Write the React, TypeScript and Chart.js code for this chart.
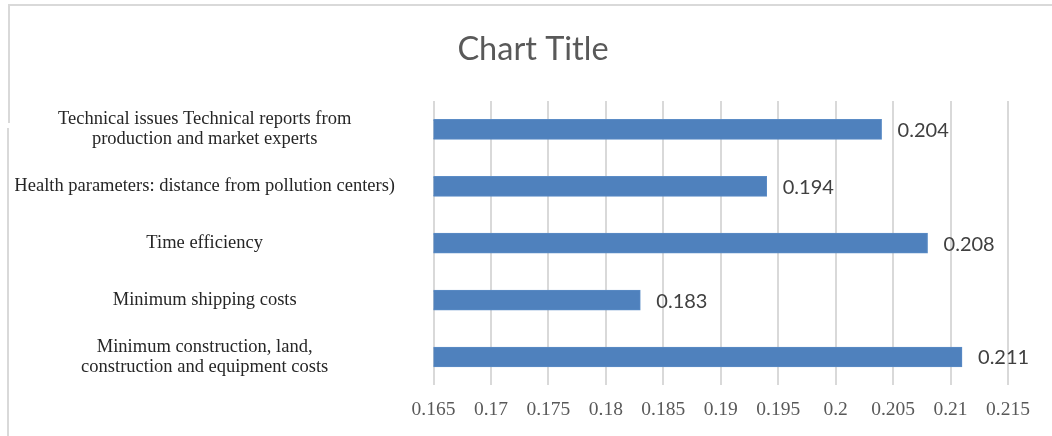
import React, { useEffect, useRef } from "react";
import { Chart, registerables } from "chart.js";

Chart.register(...registerables);

const categories: (string | string[])[] = [
  ["Technical issues Technical reports from", "production and market experts"],
  "Health parameters: distance from pollution centers)",
  "Time efficiency",
  "Minimum shipping costs",
  ["Minimum construction, land,", "construction and equipment costs"],
];
const values: number[] = [0.204, 0.194, 0.208, 0.183, 0.211];
const xMin = 0.165;
const xMax = 0.215;
const xStep = 0.005;
const chartTitle = "Chart Title";

const valueLabelPlugin = {
  id: "valueLabels",
  afterDatasetsDraw(chart: any) {
    const ctx = chart.ctx;
    const meta = chart.getDatasetMeta(0);
    ctx.save();
    ctx.font = "20px Lato, 'Open Sans', sans-serif";
    ctx.fillStyle = "#404040";
    ctx.textAlign = "left";
    ctx.textBaseline = "middle";
    meta.data.forEach((bar: any, i: number) => {
      ctx.fillText(String(values[i]), bar.x + 16, bar.y + 1);
    });
    ctx.restore();
  },
};

export default function App() {
  const ref = useRef<HTMLCanvasElement>(null);
  useEffect(() => {
    if (!ref.current) return;
    const chart = new Chart(ref.current, {
      type: "bar",
      data: {
        labels: categories,
        datasets: [
          {
            data: values,
            backgroundColor: "#4f81bd",
            borderColor: "#5b8cc6",
            borderWidth: 1,
            barThickness: 20,
          },
        ],
      },
      plugins: [valueLabelPlugin],
      options: {
        indexAxis: "y",
        animation: false,
        responsive: false,
        maintainAspectRatio: false,
        layout: { padding: { left: 15, right: 1, top: 0, bottom: 2.6 } },
        plugins: {
          legend: { display: false },
          tooltip: { enabled: false },
          title: {
            display: true,
            text: chartTitle,
            color: "#595959",
            font: { family: "Lato, 'Open Sans', sans-serif", size: 32.5, weight: "normal", lineHeight: 1.2 },
            padding: { top: 30.5, bottom: 31.5 },
          },
        },
        scales: {
          x: {
            min: xMin,
            max: xMax,
            grid: { color: "#d9d9d9", lineWidth: 2, drawTicks: false },
            border: { display: false },
            afterFit: (scale: any) => {
              scale.paddingRight = 44;
              scale.height = 48;
            },
            ticks: {
              stepSize: xStep,
              padding: 13,
              color: "#595959",
              font: { family: "'Liberation Serif', 'Times New Roman', serif", size: 19.5, lineHeight: 1.2 },
              callback: (v: any) => String(Math.round(Number(v) * 1000) / 1000),
            },
          },
          y: {
            grid: { display: false },
            border: { display: false },
            afterFit: (scale: any) => {
              scale.width = 418.5;
              scale.paddingTop = 0;
              scale.paddingBottom = 0;
            },
            ticks: {
              crossAlign: "center",
              padding: 30.5,
              color: "#262626",
              font: { family: "'Liberation Serif', 'Times New Roman', serif", size: 18.5, lineHeight: 1.1 },
            },
          },
        },
      },
    });
    return () => chart.destroy();
  }, []);

  return (
    <div style={{ position: "absolute", left: 0, top: 0, width: 1052, height: 436, background: "#fff", overflow: "hidden" }}>
      <div style={{ position: "absolute", left: 8, top: 4, right: 0, height: 2, background: "#d9d9d9" }} />
      <div style={{ position: "absolute", left: 8, top: 4, width: 2, height: 119, background: "#d9d9d9" }} />
      <div style={{ position: "absolute", left: 7, top: 128, width: 2, height: 308, background: "#d9d9d9" }} />
      <canvas ref={ref} width={1052} height={436} style={{ position: "absolute", left: 0, top: 0 }} />
    </div>
  );
}
